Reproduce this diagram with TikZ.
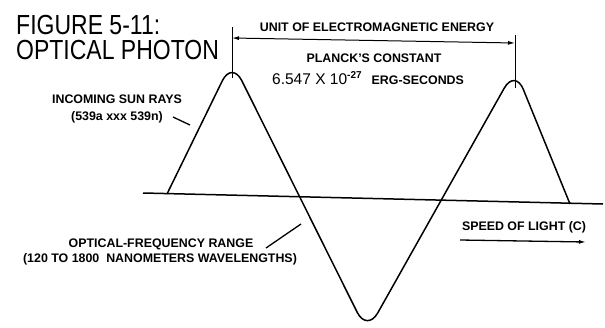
\documentclass[tikz,border=0pt]{standalone}
\usepackage{fontspec}
\setmainfont{Liberation Sans}
\usetikzlibrary{arrows.meta}

\tikzset{
  wave/.style={line width=1.5pt, rounded corners=22pt, line join=round},
  axisline/.style={line width=1.5pt},
  dimline/.style={line width=1pt},
  lbl/.style={font=\fontsize{12.4}{13}\selectfont\bfseries, inner sep=0pt},
  title/.style={font=\fontsize{23}{24}\selectfont, inner sep=0pt, anchor=north west, align=left},
}

\begin{document}
\begin{tikzpicture}[x=1pt,y=-1pt]
\useasboundingbox (0,0) rectangle (605,327);

% wave points
\coordinate (F1) at (167,194);
\coordinate (P1) at (232,61);
\coordinate (T) at (367,332);
\coordinate (P2) at (515,69);
\coordinate (F2) at (570,204);

% axis
\coordinate (B1) at (143,193);
\coordinate (B2) at (603,204);

\draw[axisline] (B1) -- (B2);
\draw[wave] (F1) -- (P1) -- (T) -- (P2) -- (F2);

% energy span
\coordinate (L1) at (232,27);
\coordinate (L2) at (232,78);
\coordinate (R1) at (515,35);
\coordinate (R2) at (515,88);
\coordinate (LA) at (232,38);
\coordinate (RA) at (515,43);

\draw[dimline] (L1) -- (L2);
\draw[dimline] (R1) -- (R2);
\draw[dimline,{Latex[length=7pt,width=4pt]}-{Latex[length=7pt,width=4pt]}] (LA) -- (RA);

% title
\node[title] (title) at (16,15)
  {\scalebox{1}[1.2]{FIGURE 5-11:}\\[1pt]\scalebox{1}[1.2]{OPTICAL PHOTON}};

% labels
\node[lbl] (unit) at (377,27) {UNIT OF ELECTROMAGNETIC ENERGY};
\node[lbl] (planck) at (374,58) {PLANCK'S CONSTANT};
\node[lbl,anchor=base west] (value) at (272,84)
  {{\mdseries\fontsize{15.5}{16}\selectfont 6.547 X 10}\raisebox{6pt}{\fontsize{10}{10}\selectfont -27}\hspace{10pt}ERG-SECONDS};

\node[lbl] (sun) at (117,99) {INCOMING SUN RAYS};
\node[lbl] (sunrange) at (117,117) {(539a xxx 539n)};
\coordinate (I1) at (173,117);
\coordinate (I2) at (190,125);
\draw[dimline,line width=1.3pt] (I1) -- (I2);

\node[lbl] (optical) at (161,244) {OPTICAL-FREQUENCY RANGE};
\node[lbl] (opticalrange) at (160,259) {(120 TO 1800\ \ NANOMETERS WAVELENGTHS)};
\coordinate (O1) at (266,248);
\coordinate (O2) at (301,224);
\draw[dimline,line width=1.3pt] (O1) -- (O2);

\node[lbl] (speed) at (524,227) {SPEED OF LIGHT (C)};
\coordinate (S1) at (460,240);
\coordinate (S2) at (586,242);
\draw[dimline,line width=1.3pt,-{Latex[length=7pt,width=4pt]}] (S1) -- (S2);
\end{tikzpicture}
\end{document}
